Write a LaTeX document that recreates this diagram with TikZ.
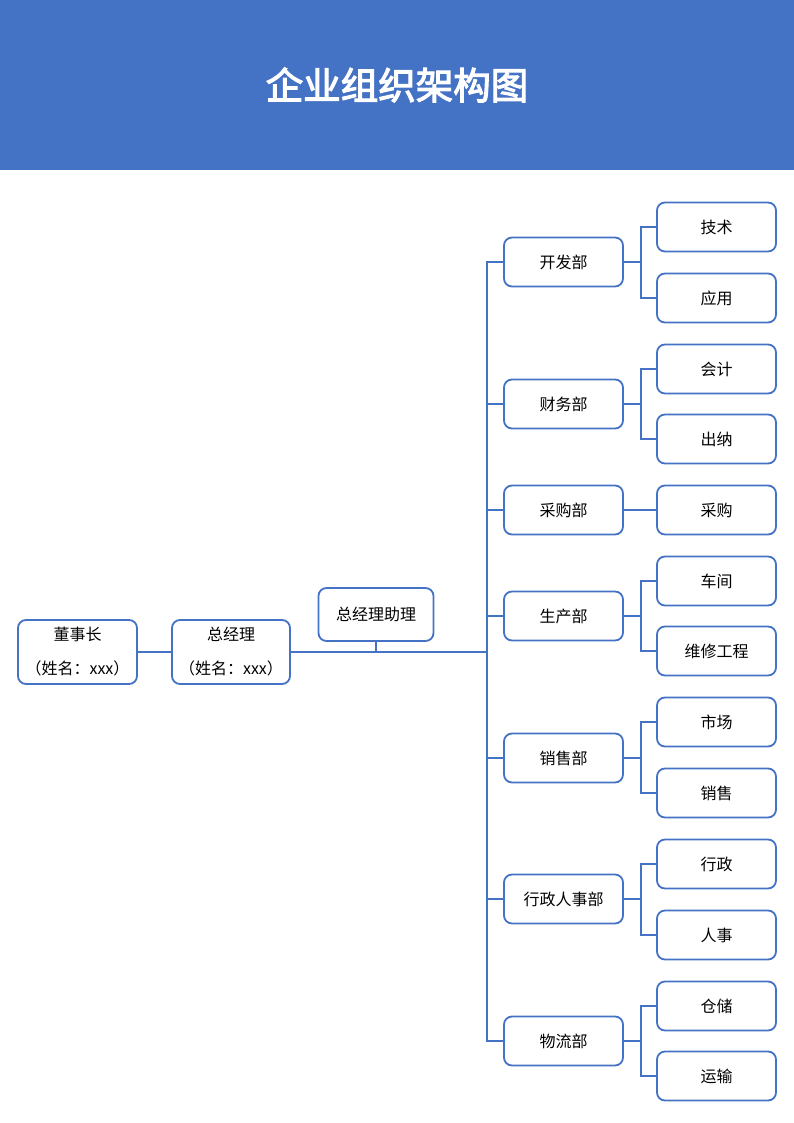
\documentclass[tikz,border=0pt]{standalone}
\usepackage{fontspec}
\setmainfont{Noto Sans CJK SC}
\newfontfamily\titlefont{Noto Sans CJK SC}[FakeBold=3]
\definecolor{hdblue}{HTML}{4472C4}
\tikzset{
  box/.style={draw=hdblue,line width=1.8pt,rounded corners=8pt,fill=white,
    minimum width=119pt,minimum height=49pt,inner sep=0pt,align=center,
    font=\fontsize{16}{18}\selectfont},
  link/.style={draw=hdblue,line width=1.8pt}
}

\begin{document}
\begin{tikzpicture}[x=1pt,y=-1pt]
        \useasboundingbox (0,0) rectangle (794,1123) ;
        % header
        \fill[hdblue] (0,0) rectangle (794,170) ;
        \node[text=white,font=\fontsize{37.5}{40}\titlefont] (title) at (397,85) {企业组织架构图} ;
        % top of the tree
        \node[box,minimum height=64pt,font=\fontsize{16}{34}\selectfont] (dsz) at (77.5,652) {董事长\\（姓名：xxx）} ;
        \node[box,minimum width=118pt,minimum height=64pt,font=\fontsize{16}{34}\selectfont] (zjl) at (231,652) {总经理\\（姓名：xxx）} ;
        \node[box,minimum width=115pt,minimum height=53pt] (zl) at (376,614.5) {总经理助理} ;
        \coordinate (trunk) at (487,652) ;
        \draw[link] (dsz) -- (zjl) ;
        \draw[link] (zjl.east) -- (trunk) ;
        \draw[link] (zl.south) -- (zl.south |- trunk) ;
        % departments
        \node[box] (kf) at (563.5,262) {开发部} ;
        \node[box] (cw) at (563.5,404) {财务部} ;
        \node[box] (cg) at (563.5,510) {采购部} ;
        \node[box] (sc) at (563.5,616) {生产部} ;
        \node[box] (xs) at (563.5,758) {销售部} ;
        \node[box] (xz) at (563.5,899) {行政人事部} ;
        \node[box] (wl) at (563.5,1041) {物流部} ;
        \foreach \d in {kf,cw,cg,sc,xs,xz,wl}
          \draw[link] (trunk) |- (\d.west) ;
        % sections
        \node[box] (js) at (716.5,227) {技术} ;
        \node[box] (yy) at (716.5,298) {应用} ;
        \node[box] (kj) at (716.5,369) {会计} ;
        \node[box] (cn) at (716.5,439) {出纳} ;
        \node[box] (cgs) at (716.5,510) {采购} ;
        \node[box] (cj) at (716.5,581) {车间} ;
        \node[box] (wx) at (716.5,651) {维修工程} ;
        \node[box] (sch) at (716.5,722) {市场} ;
        \node[box] (xss) at (716.5,793) {销售} ;
        \node[box] (xzs) at (716.5,864) {行政} ;
        \node[box] (rs) at (716.5,935) {人事} ;
        \node[box] (cc) at (716.5,1006) {仓储} ;
        \node[box] (ys) at (716.5,1076) {运输} ;
        \foreach \d/\s in {kf/js,kf/yy,cw/kj,cw/cn,sc/cj,sc/wx,xs/sch,xs/xss,xz/xzs,xz/rs,wl/cc,wl/ys}
          \draw[link] (\d.east) -- +(17,0) |- (\s.west) ;
        \draw[link] (cg) -- (cgs) ;
      \end{tikzpicture}
\end{document}
